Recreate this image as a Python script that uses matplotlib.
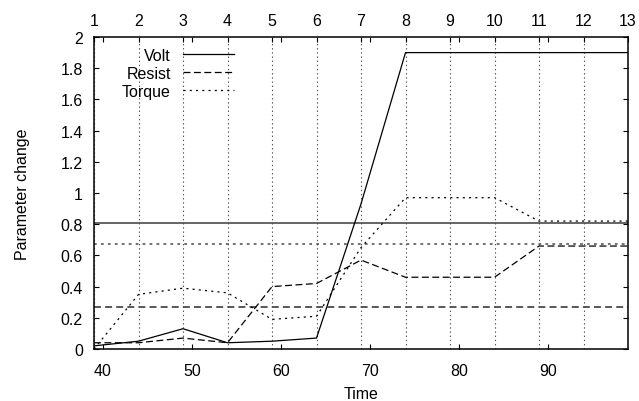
import matplotlib
matplotlib.use("Agg")
import matplotlib.pyplot as plt

# sample times (one per top-axis step) and measured parameter changes
time = [39, 44, 49, 54, 59, 64, 69, 74, 79, 84, 89, 94, 99]
volt = [0.02, 0.05, 0.13, 0.04, 0.05, 0.07, 0.93, 1.90, 1.90, 1.90, 1.90, 1.90, 1.90]
resist = [0.04, 0.04, 0.07, 0.04, 0.40, 0.42, 0.57, 0.46, 0.46, 0.46, 0.66, 0.66, 0.66]
torque = [0.00, 0.35, 0.39, 0.36, 0.19, 0.21, 0.65, 0.97, 0.97, 0.97, 0.82, 0.82, 0.82]

# reference levels drawn as horizontal lines
volt_ref = 0.81
resist_ref = 0.27
torque_ref = 0.67

x_ticks = [40, 50, 60, 70, 80, 90]
y_ticks = [0, 0.2, 0.4, 0.6, 0.8, 1, 1.2, 1.4, 1.6, 1.8, 2]
y_tick_labels = ["0", "0.2", "0.4", "0.6", "0.8", "1", "1.2", "1.4", "1.6", "1.8", "2"]
step_ticks = list(range(1, 14))

plt.rcParams["font.family"] = ["Liberation Sans", "DejaVu Sans"]
plt.rcParams["font.size"] = 11.5
plt.rcParams["lines.scale_dashes"] = False

fig = plt.figure(figsize=(6.39, 4.02), dpi=100)
ax = fig.add_axes([94 / 639, 52 / 402, 534 / 639, 312 / 402])

# top axis with the step numbers and the vertical grid
ax2 = ax.twiny()
ax2.set_zorder(ax.get_zorder() - 1)
ax.patch.set_visible(False)
ax2.set_xlim(1, 13)
ax2.set_xticks(step_ticks)
ax2.grid(axis="x", color="#555555", linestyle=(0, (1, 2)), linewidth=0.8)
ax2.tick_params(axis="x", direction="in", length=3.6, width=0.8, pad=6.5, top=True, bottom=False)
for s in ax2.spines.values():
    s.set_visible(False)

ref_color = "#4a4a4a"
ax.axhline(volt_ref, color=ref_color, linewidth=1.2)
ax.axhline(resist_ref, color=ref_color, linewidth=1.3, linestyle=(0, (5, 3)))
ax.axhline(torque_ref, color=ref_color, linewidth=1.1, linestyle=(0, (2, 3)))

ax.plot(time, volt, color="black", linewidth=0.9, label="Volt")
ax.plot(time, resist, color="black", linewidth=0.9, linestyle=(0, (5, 2.5)), label="Resist")
ax.plot(time, torque, color="black", linewidth=0.9, linestyle=(0, (1.5, 3)), label="Torque")

ax.set_xlim(39, 99)
ax.set_ylim(0, 2)
ax.set_xticks(x_ticks)
ax.set_yticks(y_ticks)
ax.set_yticklabels(y_tick_labels)
ax.tick_params(axis="both", direction="in", length=3.6, width=0.8)
ax.tick_params(axis="x", top=True, pad=10)
ax.tick_params(axis="y", right=True, pad=8)
for s in ax.spines.values():
    s.set_linewidth(1.1)

ax.set_xlabel("Time", labelpad=6)
ax.set_ylabel("Parameter change", labelpad=22)

ax.legend(loc="upper right", bbox_to_anchor=(0.262, 0.966), frameon=False,
          markerfirst=False, handlelength=3.2, handletextpad=0.75,
          labelspacing=0.2, borderpad=0, borderaxespad=0)

fig.savefig("out.png", dpi=100)
